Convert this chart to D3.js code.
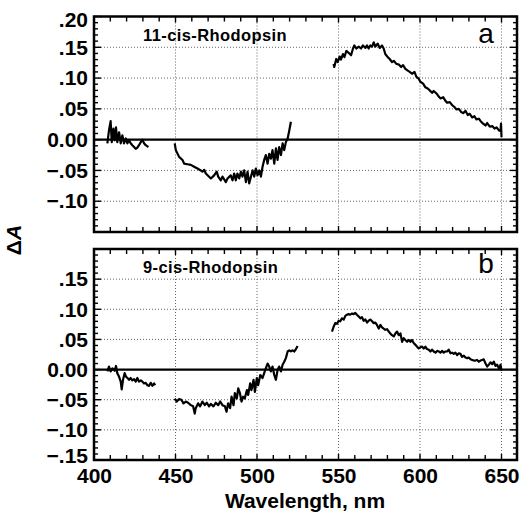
<!DOCTYPE html>
<html><head><meta charset="utf-8">
<script src="https://cdn.jsdelivr.net/npm/d3@7"></script>
<style>body{margin:0;background:#fff}svg{display:block}text{font-family:"Liberation Sans",Arial,sans-serif;fill:#000}</style>
</head><body><svg id="c" width="522" height="515"></svg>
<script>
// ---- data (wavelength nm, ΔA) ----
const panelNames = ["11-cis-Rhodopsin", "9-cis-Rhodopsin"];
const panelLetters = ["a", "b"];
const xTicks = [400, 450, 500, 550, 600, 650];
const yTicksA = [0.20, 0.15, 0.10, 0.05, 0, -0.05, -0.10];
const yTicksB = [0.15, 0.10, 0.05, 0, -0.05, -0.10, -0.15];

const a1Wl = [408.2,409.2,410.2,410.9,411.9,412.7,413.5,414.3,415.4,416.4,417.4,418.4,419.5,420.5,421.5,422.5,423.5,424.6,425.6,426.6,427.6,428.7,429.7,430.7,431.7,432.8,433.4];
const a1Val = [-0.006,0.015,0.030,-0.004,0.018,-0.001,0.020,-0.004,0.012,-0.006,0.007,-0.006,0.002,-0.006,-0.001,-0.006,-0.009,-0.012,-0.015,-0.013,-0.009,-0.004,0.000,-0.006,-0.009,-0.011,-0.012];

const a2Wl = [449.5,450.2,452.2,454.3,455.3,457.3,459.4,461.4,463.5,465.5,466.5,467.6,468.6,471.7,473.7,475.3,476.2,477.8,478.8,480.9,481.9,483.9,485.0,486.0,487.0,488.0,489.1,490.1,491.1,492.1,493.2,494.2,495.2,497.3,498.3,499.3,500.3,501.4,502.4,503.4,504.4,505.4,506.5,507.5,508.5,509.5,510.6,511.6,512.6,513.6,514.7,515.7,516.7,517.7,518.8,519.8,520.8];
const a2Val = [-0.006,-0.017,-0.028,-0.033,-0.039,-0.040,-0.041,-0.044,-0.047,-0.050,-0.052,-0.049,-0.055,-0.063,-0.058,-0.052,-0.060,-0.066,-0.060,-0.069,-0.063,-0.058,-0.066,-0.055,-0.066,-0.055,-0.063,-0.052,-0.060,-0.050,-0.069,-0.052,-0.071,-0.050,-0.060,-0.047,-0.058,-0.050,-0.060,-0.044,-0.033,-0.025,-0.039,-0.023,-0.031,-0.017,-0.039,-0.014,-0.033,-0.012,-0.025,-0.006,-0.017,-0.004,0.002,0.015,0.029];

const a3Wl = [547.0,547.4,548.6,549.5,550.7,551.5,552.7,553.6,554.8,556.2,557.7,558.9,559.7,561.0,562.4,563.8,565.0,566.5,567.5,568.5,569.5,570.6,571.6,572.6,574.0,575.3,576.7,577.7,578.7,580.2,581.4,582.8,583.9,585.5,587.0,588.4,589.6,591.0,592.5,593.7,595.1,596.6,597.8,599.2,600.2,601.9,603.3,604.7,606.0,607.4,608.4,610.1,611.5,612.5,614.2,615.6,616.6,618.3,619.7,621.1,622.4,623.8,625.2,626.5,627.9,629.3,630.5,632.0,633.4,634.6,636.1,637.5,638.7,640.2,641.2,642.8,644.3,645.7,647.0,648.4,649.4,649.7,650.0];
const a3Val = [0.123,0.118,0.131,0.126,0.135,0.130,0.139,0.134,0.144,0.141,0.137,0.148,0.153,0.148,0.151,0.148,0.153,0.149,0.153,0.148,0.153,0.151,0.158,0.151,0.156,0.149,0.153,0.148,0.139,0.134,0.131,0.126,0.128,0.123,0.122,0.118,0.121,0.115,0.112,0.110,0.107,0.110,0.102,0.099,0.094,0.091,0.085,0.083,0.080,0.076,0.079,0.075,0.070,0.067,0.069,0.063,0.060,0.061,0.056,0.053,0.049,0.050,0.045,0.043,0.047,0.040,0.042,0.036,0.038,0.033,0.034,0.029,0.026,0.023,0.027,0.021,0.022,0.018,0.020,0.015,0.014,0.026,0.004];

const b1Wl = [408.2,409.2,410.2,411.3,412.7,413.5,414.3,415.4,416.4,417.0,417.8,418.8,419.7,420.5,421.5,422.5,423.5,424.6,425.6,426.6,427.6,428.7,429.7,430.7,431.7,432.8,433.8,434.8,435.8,436.9,437.5];
const b1Val = [-0.003,0.005,-0.003,0.002,-0.002,0.006,-0.006,-0.012,-0.020,-0.033,-0.017,-0.006,-0.012,-0.014,-0.017,-0.014,-0.018,-0.016,-0.020,-0.014,-0.020,-0.018,-0.020,-0.023,-0.022,-0.026,-0.027,-0.022,-0.027,-0.023,-0.026];

const b2Wl = [449.5,450.8,452.2,453.6,454.9,456.3,457.7,459.4,460.8,461.8,462.4,463.9,465.1,466.5,468.0,469.2,470.6,471.7,473.3,474.7,476.2,477.4,478.8,480.3,481.3,482.3,483.5,484.4,485.6,486.4,487.6,488.5,489.5,490.5,491.5,492.5,493.8,494.6,495.8,496.6,497.9,498.7,499.9,500.7,502.0,503.4,504.4,505.4,506.5,507.5,508.5,509.5,510.6,511.6,512.6,513.6,514.7,515.7,516.7,517.7,518.8,519.8,520.8,521.8,522.8,523.9,524.9];
const b2Val = [-0.048,-0.053,-0.049,-0.050,-0.056,-0.053,-0.055,-0.059,-0.061,-0.073,-0.064,-0.056,-0.061,-0.053,-0.059,-0.055,-0.061,-0.057,-0.061,-0.055,-0.059,-0.053,-0.059,-0.061,-0.070,-0.056,-0.064,-0.045,-0.059,-0.039,-0.048,-0.031,-0.039,-0.053,-0.045,-0.048,-0.034,-0.042,-0.023,-0.034,-0.017,-0.037,-0.014,-0.026,-0.009,-0.014,-0.006,0.002,0.010,0.005,-0.003,0.005,-0.009,-0.017,-0.001,0.005,-0.003,0.008,0.013,0.019,0.030,0.032,0.030,0.032,0.030,0.034,0.039];

const b3Wl = [546.0,547.0,548.0,549.1,550.1,551.1,552.1,553.2,554.2,555.2,556.2,557.2,558.3,559.3,560.3,561.3,562.4,563.4,564.4,565.4,566.5,567.5,568.5,569.5,570.6,571.6,572.6,573.6,574.7,575.7,576.7,577.7,578.7,579.8,580.8,581.8,582.8,583.9,584.9,585.9,587.0,588.0,589.0,590.0,591.0,592.1,593.1,594.1,595.1,596.1,597.2,598.2,599.2,600.2,601.3,602.3,603.3,604.3,605.4,606.4,607.4,608.4,609.5,610.5,611.5,612.5,613.6,614.6,615.6,616.6,617.6,618.7,619.7,620.7,621.7,622.8,623.8,624.8,625.8,626.9,627.9,628.9,629.9,631.0,632.0,633.0,634.0,635.0,636.1,637.1,638.1,639.1,640.2,641.2,642.2,643.2,644.3,645.3,646.3,647.3,648.4,649.4,650.0];
const b3Val = [0.063,0.071,0.077,0.076,0.081,0.080,0.085,0.083,0.089,0.091,0.092,0.091,0.093,0.092,0.094,0.091,0.088,0.085,0.087,0.081,0.083,0.078,0.081,0.083,0.080,0.077,0.078,0.074,0.068,0.074,0.070,0.068,0.066,0.067,0.063,0.060,0.057,0.055,0.060,0.063,0.057,0.060,0.046,0.052,0.049,0.046,0.049,0.046,0.049,0.044,0.041,0.038,0.035,0.037,0.038,0.035,0.038,0.034,0.033,0.030,0.033,0.030,0.028,0.031,0.030,0.028,0.031,0.028,0.030,0.030,0.033,0.027,0.028,0.026,0.028,0.024,0.027,0.026,0.021,0.023,0.020,0.019,0.020,0.017,0.016,0.015,0.015,0.016,0.013,0.015,0.016,0.017,0.010,0.005,0.008,0.012,0.009,0.013,0.006,0.008,0.002,0.008,-0.002];

// ---- drawing ----
const svg = d3.select("#c");
const L = 94, R = 517;
const x = d3.scaleLinear().domain([400, 659.5]).range([L, R]);
const panels = [
  {top: 16.5, bottom: 232, ticks: yTicksA, segs: [[a1Wl,a1Val],[a2Wl,a2Val],[a3Wl,a3Val]], name: panelNames[0], letter: panelLetters[0], letterY: 43},
  {top: 249, bottom: 460, ticks: yTicksB, segs: [[b1Wl,b1Val],[b2Wl,b2Val],[b3Wl,b3Val]], name: panelNames[1], letter: panelLetters[1], letterY: 273}
];
const fmt = v => Math.abs(v) < 1e-9 ? "0.00" : (v < 0 ? "\u2212" : "") + d3.format(".2f")(Math.abs(v)).replace(/^0/, "");
const minorY = d3.range(-15, 21).map(d => d / 100);
const minorX = d3.range(400, 660, 10);

panels.forEach((p, i) => {
  const y = d3.scaleLinear().domain([-0.15, 0.20]).range([p.bottom, p.top]);
  const g = svg.append("g");
  // grid
  const grid = g.append("g").attr("stroke", "#666").attr("stroke-width", 1).attr("stroke-dasharray", "1,2");
  grid.selectAll("line.h").data(p.ticks.filter(v => Math.abs(v) > 1e-9 && y(v) > p.top + 3 && y(v) < p.bottom - 3)).join("line")
    .attr("x1", L + 4).attr("x2", R - 4).attr("y1", d => y(d)).attr("y2", d => y(d));
  grid.selectAll("line.v").data([450, 500, 550, 600, 650]).join("line")
    .attr("y1", p.top).attr("y2", p.bottom).attr("x1", d => x(d)).attr("x2", d => x(d));
  // ticks
  const tk = g.append("g").attr("stroke", "#000").attr("stroke-width", 1.4);
  tk.selectAll("line.ml").data(minorY).join("line")
    .attr("x1", L).attr("x2", d => L + (Math.round(d * 100) % 5 === 0 ? 7 : 4)).attr("y1", d => y(d)).attr("y2", d => y(d));
  tk.selectAll("line.mr").data(minorY).join("line")
    .attr("x1", R).attr("x2", d => R - (Math.round(d * 100) % 5 === 0 ? 7 : 4)).attr("y1", d => y(d)).attr("y2", d => y(d));
  tk.selectAll("line.mt").data(minorX).join("line")
    .attr("y1", p.top).attr("y2", d => p.top + (d % 50 === 0 ? 6 : 5)).attr("x1", d => x(d)).attr("x2", d => x(d));
  tk.selectAll("line.mb").data(minorX).join("line")
    .attr("y1", p.bottom).attr("y2", d => p.bottom - (d % 50 === 0 ? 6 : 5)).attr("x1", d => x(d)).attr("x2", d => x(d));
  // zero line
  g.append("line").attr("x1", L).attr("x2", R).attr("y1", y(0)).attr("y2", y(0)).attr("stroke", "#000").attr("stroke-width", 2.2);
  // y axis labels
  const ax = d3.axisLeft(y).tickValues(p.ticks).tickSize(0).tickPadding(6).tickFormat(fmt);
  const ag = g.append("g").attr("transform", `translate(${L},0)`).call(ax);
  ag.select(".domain").remove();
  ag.selectAll("text").style("font-size", "21px").style("font-weight", "bold").attr("fill", "#000")
    .attr("y", d => (Math.abs(d - 0.20) < 1e-9 ? 3.5 : Math.abs(d + 0.15) < 1e-9 ? -4.5 : 0));
  // data
  const line = d3.line().x(d => x(d[0])).y(d => y(d[1]));
  p.segs.forEach(([w, v]) => {
    g.append("path").datum(w.map((d, k) => [d, v[k]])).attr("d", line)
      .attr("fill", "none").attr("stroke", "#000").attr("stroke-width", 2.2).attr("stroke-linejoin", "round");
  });
  // frame
  g.append("rect").attr("x", L).attr("y", p.top).attr("width", R - L).attr("height", p.bottom - p.top)
    .attr("fill", "none").attr("stroke", "#000").attr("stroke-width", 2.5);
  // labels
  g.append("text").attr("x", 143).attr("y", p.top + 24).style("font-size", "16.5px").style("font-weight", "bold").attr("letter-spacing", 0.4).text(p.name);
  g.append("text").attr("x", 486).attr("y", p.letterY).style("font-size", "28px").style("font-weight", "normal").attr("text-anchor", "middle").text(p.letter);
  if (i === 1) {
    const xa = d3.axisBottom(x).tickValues(xTicks).tickSize(0).tickPadding(8).tickFormat(d3.format("d"));
    const xg = g.append("g").attr("transform", `translate(0,${p.bottom})`).call(xa);
    xg.select(".domain").remove();
    xg.selectAll("text").style("font-size", "21px").style("font-weight", "bold").attr("fill", "#000");
  }
});
svg.append("text").attr("x", 305).attr("y", 508).attr("text-anchor", "middle").style("font-size", "21px").style("font-weight", "bold").text("Wavelength, nm");
svg.append("text").attr("transform", "translate(21,240) rotate(-90)").attr("text-anchor", "middle").style("font-size", "21px").style("font-weight", "bold")
  .html('\u0394<tspan font-style="italic">A</tspan>');
</script></body></html>
